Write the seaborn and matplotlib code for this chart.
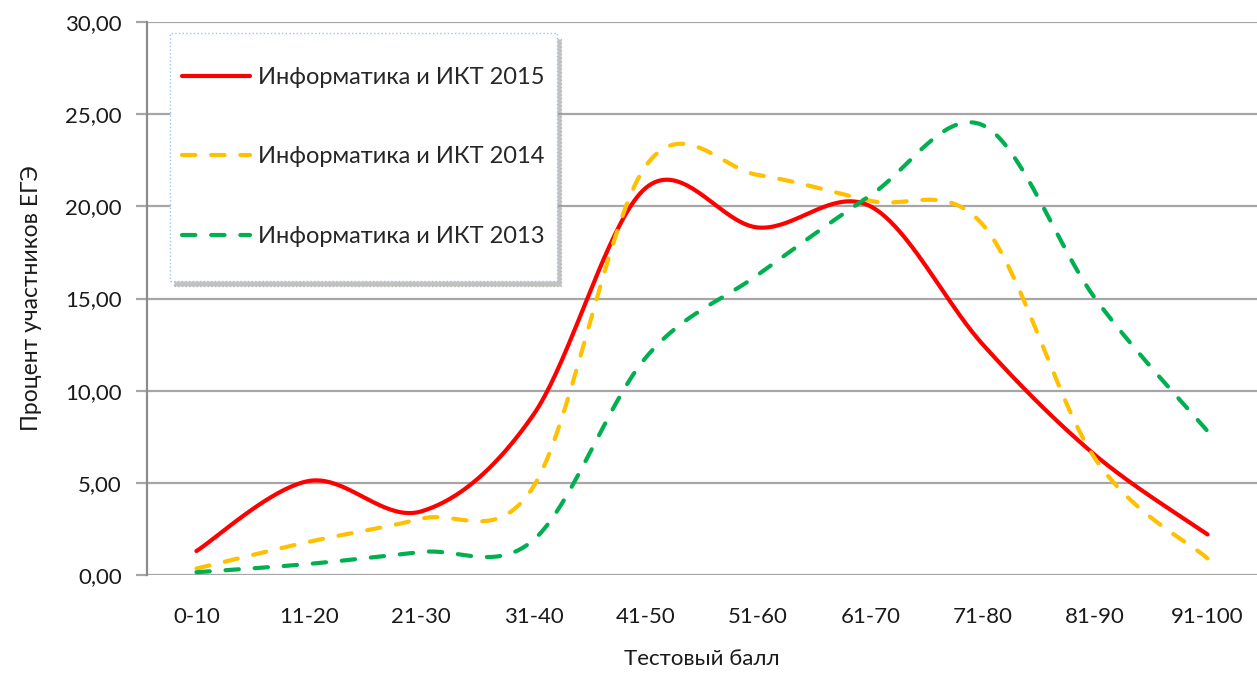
import numpy as np
import pandas as pd
import seaborn as sns
import matplotlib.pyplot as plt

# категории (тестовый балл) и доли участников по годам
categories = ['0-10', '11-20', '21-30', '31-40', '41-50', '51-60', '61-70', '71-80', '81-90', '91-100']
vals_2015 = [1.30, 5.10, 3.45, 8.70, 21.0, 18.85, 20.0, 12.5, 6.5, 2.20]
vals_2014 = [0.35, 1.80, 3.05, 4.80, 22.2, 21.7, 20.3, 19.0, 6.3, 0.90]
vals_2013 = [0.15, 0.60, 1.25, 1.90, 11.8, 16.3, 20.6, 24.4, 15.0, 7.80]
series_names = ['Информатика и ИКТ 2015', 'Информатика и ИКТ 2014', 'Информатика и ИКТ 2013']
yticks = [0, 5, 10, 15, 20, 25, 30]
ytick_labels = ['0,00', '5,00', '10,00', '15,00', '20,00', '25,00', '30,00']

colors = {'Информатика и ИКТ 2015': '#FF0000',
          'Информатика и ИКТ 2014': '#FFC000',
          'Информатика и ИКТ 2013': '#00B050'}
dash_styles = {'Информатика и ИКТ 2015': '',
               'Информатика и ИКТ 2014': (3.2, 3.8),
               'Информатика и ИКТ 2013': (3.2, 3.8)}


def smooth(y, n=40):
    # сглаживание как в Excel: кубические кривые Безье через точки
    y = np.asarray(y, dtype=float)
    x = np.arange(len(y), dtype=float)
    xs, ys = [], []
    for i in range(len(y) - 1):
        i0 = max(i - 1, 0)
        i3 = min(i + 2, len(y) - 1)
        p0 = np.array([x[i], y[i]])
        p3 = np.array([x[i + 1], y[i + 1]])
        p1 = p0 + (np.array([x[i + 1], y[i + 1]]) - np.array([x[i0], y[i0]])) / 6
        p2 = p3 - (np.array([x[i3], y[i3]]) - np.array([x[i], y[i]])) / 6
        t = np.linspace(0, 1, n, endpoint=(i == len(y) - 2))[:, None]
        pts = (1 - t) ** 3 * p0 + 3 * (1 - t) ** 2 * t * p1 + 3 * (1 - t) * t ** 2 * p2 + t ** 3 * p3
        xs.extend(pts[:, 0])
        ys.extend(pts[:, 1])
    return xs, ys


frames = []
for name, vals in zip(series_names, [vals_2015, vals_2014, vals_2013]):
    xs, ys = smooth(vals)
    frames.append(pd.DataFrame({'x': xs, 'y': ys, 'series': name}))
df = pd.concat(frames, ignore_index=True)

sns.set_style('white')
plt.rcParams['font.family'] = ['Lato', 'DejaVu Sans']

fig = plt.figure(figsize=(12.57, 6.77), dpi=100)
ax = fig.add_axes([147 / 1257, 1 - 575 / 677, 1 - 147 / 1257, 553 / 677])

sns.lineplot(data=df, x='x', y='y', hue='series', style='series',
             hue_order=series_names, style_order=series_names,
             palette=colors, dashes=dash_styles, linewidth=3.0,
             estimator=None, sort=False, ax=ax, legend=True)

for line in ax.get_lines():
    line.set_dash_capstyle('round')
    line.set_solid_capstyle('round')

ax.set_xlim(-0.44, len(categories) - 1 + 0.44)
ax.set_ylim(0, 30)
ax.set_xticks(range(len(categories)))
ax.set_xticklabels(categories)
ax.set_yticks(yticks)
ax.set_yticklabels(ytick_labels)

ax.grid(axis='y', color='#a6a6a6', linewidth=1.6)
ax.set_axisbelow(True)
for s in ['top', 'right', 'bottom']:
    ax.spines[s].set_visible(False)
ax.spines['left'].set_color('#8c8c8c')
ax.spines['left'].set_linewidth(1.6)

ax.tick_params(axis='y', length=8, width=1.6, color='#a6a6a6', pad=10,
               labelsize=16, labelcolor='#1a1a1a', left=True)
ax.tick_params(axis='x', length=0, pad=23, labelsize=16, labelcolor='#1a1a1a')

ax.set_xlabel('Тестовый балл', fontsize=16, color='#1a1a1a', labelpad=16)
ax.set_ylabel('Процент участников ЕГЭ', fontsize=16.5, color='#1a1a1a', labelpad=17)

leg_fs = 17
handles, labels = ax.get_legend_handles_labels()
for h in handles:
    h.set_dash_capstyle('round')
leg = ax.legend(handles, labels, loc='upper left', bbox_to_anchor=(0.0207, 0.98),
                borderaxespad=0, fontsize=leg_fs, handlelength=2.88, handletextpad=0.34,
                handleheight=3.8, labelspacing=0.66, borderpad=0.51,
                frameon=True, fancybox=False,
                shadow={'color': '#9a9a9a', 'alpha': 0.6, 'ox': 3, 'oy': -4})
# линия маркера легенды на уровне середины текста
for lh in leg.get_lines():
    lh.set_ydata(np.full(len(lh.get_xdata()), 0.33 * leg_fs))
frame = leg.get_frame()
frame.set_edgecolor('#9cc2f0')
frame.set_linestyle(':')
frame.set_linewidth(1.0)
frame.set_facecolor('white')
frame.set_alpha(1)

fig.savefig('out.png', dpi=100)
